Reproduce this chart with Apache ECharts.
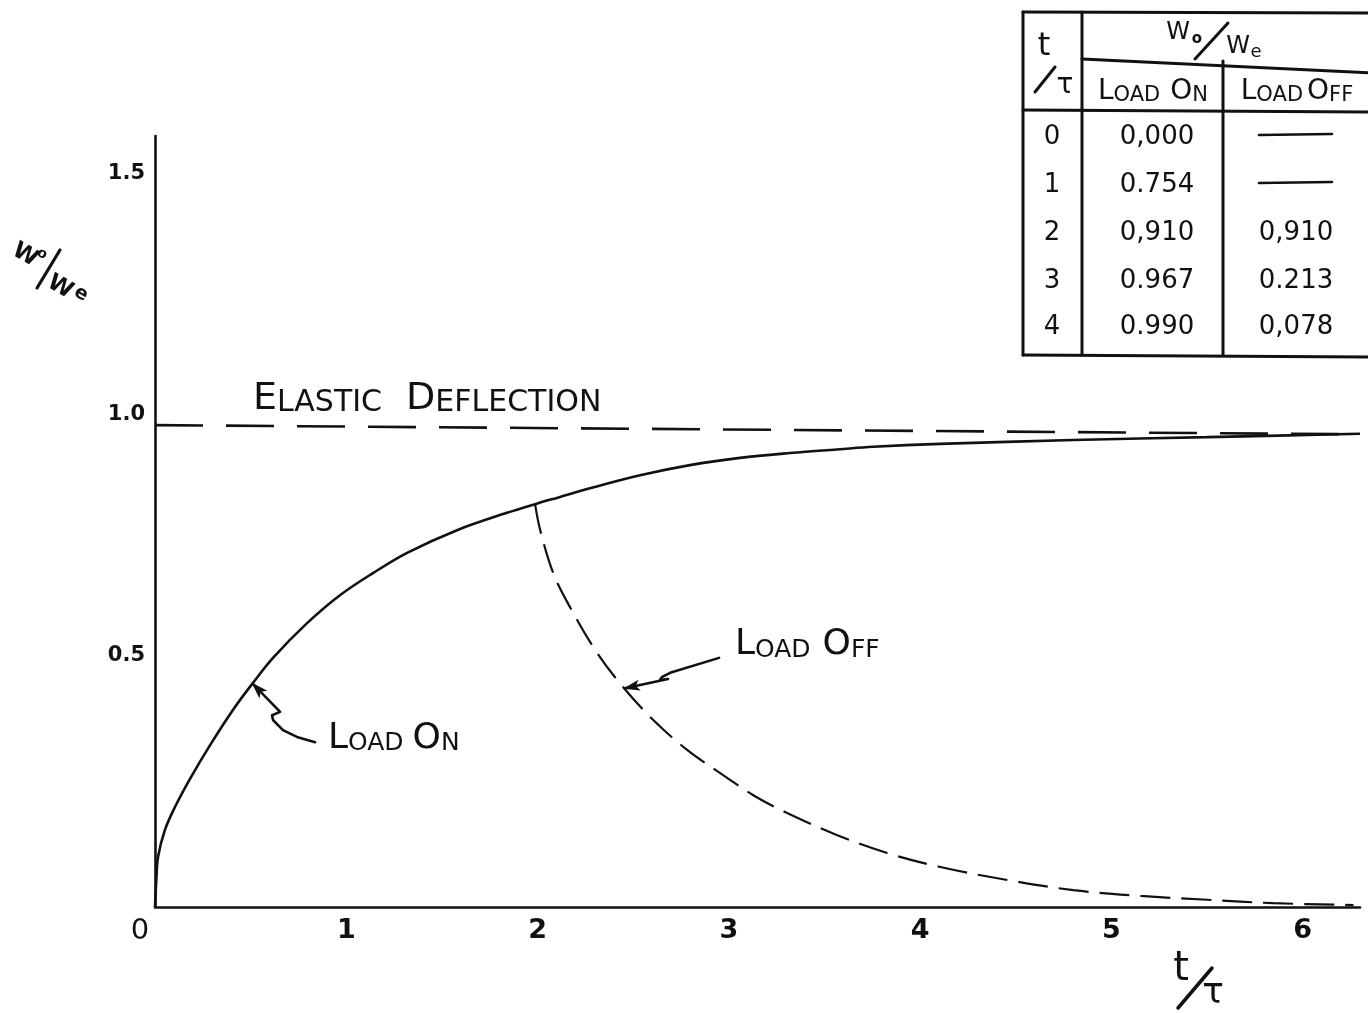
<!DOCTYPE html>
<html>
<head>
<meta charset="utf-8">
<script src="https://cdn.jsdelivr.net/npm/echarts/dist/echarts.min.js"></script>
<style>
html,body{margin:0;padding:0;background:#fff;}
#chart{width:1368px;height:1013px;}
</style>
</head>
<body>
<div id="chart"></div>
<script>
// ---------------- data ----------------
const xTicks = [0, 1, 2, 3, 4, 5, 6];
const xTickLabels = ['0', '1', '2', '3', '4', '5', '6'];
const yTicks = [0.5, 1.0, 1.5];
const yTickLabels = ['0.5', '1.0', '1.5'];

// t/tau , w0/we  -- load on (solid curve)
const loadOn = [
  [0, 0], [0.007, 0.056], [0.016, 0.104], [0.052, 0.160], [0.105, 0.208],
  [0.183, 0.266], [0.288, 0.336], [0.411, 0.411], [0.512, 0.465], [0.617, 0.517],
  [0.795, 0.589], [0.967, 0.647], [1.140, 0.693], [1.318, 0.735], [1.579, 0.782],
  [1.840, 0.818], [1.987, 0.836], [2.118, 0.851], [2.274, 0.869], [2.536, 0.896],
  [2.797, 0.917], [3.059, 0.932], [3.320, 0.942], [3.581, 0.950], [3.754, 0.955],
  [4.104, 0.961], [4.800, 0.969], [5.500, 0.975], [6.300, 0.982]
];
// load off (dashed decay curve)
const loadOff = [
  [1.987, 0.836], [2.014, 0.782], [2.082, 0.693], [2.170, 0.622], [2.312, 0.527],
  [2.448, 0.456], [2.605, 0.388], [2.782, 0.326], [2.955, 0.278], [3.128, 0.232],
  [3.305, 0.195], [3.567, 0.149], [3.828, 0.112], [4.106, 0.083], [4.456, 0.056],
  [4.801, 0.035], [5.152, 0.023], [5.502, 0.015], [5.847, 0.008], [6.266, 0.004]
];
// elastic deflection reference line
const elastic = [[0, 1.0], [6.3, 0.981]];

// table
const tableT = ['0', '1', '2', '3', '4'];
const tableLoadOn = ['0,000', '0.754', '0,910', '0.967', '0.990'];
const tableLoadOff = [null, null, '0,910', '0.213', '0,078'];

// ---------------- styling ----------------
const FONT = '"DejaVu Sans", "Noto Sans", sans-serif';
const INK = '#111';

const chart = echarts.init(document.getElementById('chart'), null, {renderer: 'canvas'});

function near(a, b) { return Math.abs(a - b) < 1e-6; }

const option = {
  backgroundColor: '#fff',
  animation: false,
  grid: {left: 155, right: 8, top: 136, bottom: 106, containLabel: false},
  xAxis: {
    type: 'value', min: 0, max: 6.3, interval: 1,
    axisLine: {show: true, onZero: false, lineStyle: {color: INK, width: 2.6}},
    axisTick: {show: false},
    splitLine: {show: false},
    axisLabel: {
      margin: 10, fontSize: 27, fontFamily: FONT, fontWeight: 'bold', color: INK,
      formatter: function (v) {
        const i = xTicks.findIndex(t => near(t, v));
        if (i < 0) return '';
        return i === 0 ? '{z|' + xTickLabels[i] + '}' : xTickLabels[i];
      },
      rich: {z: {fontSize: 29, fontFamily: FONT, fontWeight: 'normal', color: INK, padding: [0, 30, 0, 0]}}
    }
  },
  yAxis: {
    type: 'value', min: 0, max: 1.6, interval: 0.5,
    axisLine: {show: true, onZero: false, lineStyle: {color: INK, width: 2.6}},
    axisTick: {show: false},
    splitLine: {show: false},
    axisLabel: {
      margin: 10, fontSize: 21, fontFamily: FONT, fontWeight: 'bold', color: INK,
      verticalAlign: 'bottom', lineHeight: 21,
      formatter: function (v) {
        const i = yTicks.findIndex(t => near(t, v));
        return i < 0 ? '' : yTickLabels[i];
      }
    }
  },
  series: [
    {
      name: 'Elastic Deflection', type: 'line', data: elastic, showSymbol: false, silent: true,
      lineStyle: {color: INK, width: 2.6, type: [48, 23]}, z: 2
    },
    {
      name: 'Load On', type: 'line', data: loadOn, showSymbol: false, silent: true,
      smooth: 0.35,
      lineStyle: {color: INK, width: 2.6}, z: 3
    },
    {
      name: 'Load Off', type: 'line', data: loadOff, showSymbol: false, silent: true,
      smooth: 0.35,
      lineStyle: {color: INK, width: 2.2, type: [30, 11]}, z: 3
    }
  ]
};
chart.setOption(option);

// ---------------- annotations (anchored in data coordinates) ----------------
const annot = {
  elastic: {text: 'Elastic Deflection', at: [0.512, 1.054], big: 38, small: 30, sp: 24},
  loadOn: {text: 'Load On', at: [0.904, 0.350], big: 36, small: 25, sp: 9},
  loadOff: {text: 'Load Off', at: [3.032, 0.544], big: 36, small: 25, sp: 12},
  loadOnArrow: [[0.837, 0.342], [0.742, 0.353], [0.669, 0.367], [0.617, 0.388], [0.612, 0.398], [0.654, 0.405], [0.512, 0.463]],
  loadOffArrow: [[2.949, 0.517], [2.693, 0.486], [2.650, 0.477], [2.640, 0.471], [2.682, 0.473], [2.457, 0.454]]
};

function px(p) { return chart.convertToPixel({gridIndex: 0}, p); }

function smallCaps(s) {
  return s.split(' ').map(w => '{b|' + w[0].toUpperCase() + '}{s|' + w.slice(1).toUpperCase() + '}').join('{sp| }');
}
function scRich(big, small, sp, weight) {
  const fw = weight || 'normal';
  return {
    b: {fontSize: big, fontFamily: FONT, fontWeight: fw, fill: INK, verticalAlign: 'bottom'},
    s: {fontSize: small, fontFamily: FONT, fontWeight: fw, fill: INK, verticalAlign: 'bottom'},
    sp: {fontSize: small, fontFamily: FONT, fill: INK, width: sp, verticalAlign: 'bottom'}
  };
}

const els = [];

function addLabel(a) {
  const p = px(a.at);
  els.push({
    type: 'text', x: p[0], y: p[1], silent: true,
    style: {text: smallCaps(a.text), align: 'left', verticalAlign: 'middle', rich: scRich(a.big, a.small, a.sp)}
  });
}
addLabel(annot.elastic);
addLabel(annot.loadOn);
addLabel(annot.loadOff);

function addArrow(pts) {
  const P = pts.map(px);
  els.push({type: 'polyline', silent: true, shape: {points: P}, style: {stroke: INK, lineWidth: 2.6, fill: null, lineJoin: 'round', lineCap: 'round'}});
  const tip = P[P.length - 1], prev = P[P.length - 2];
  let dx = tip[0] - prev[0], dy = tip[1] - prev[1];
  const L = Math.hypot(dx, dy); dx /= L; dy /= L;
  const len = 15, w = 5.5;
  const bx = tip[0] - dx * len, by = tip[1] - dy * len;
  els.push({type: 'polygon', silent: true, shape: {points: [[tip[0] + dx * 2, tip[1] + dy * 2], [bx - dy * w, by + dx * w], [bx + dx * 4, by + dy * 4], [bx + dy * w, by - dx * w]]}, style: {fill: INK}});
}
addArrow(annot.loadOnArrow);
addArrow(annot.loadOffArrow);

function txt(x, y, text, size, extra, weight) {
  els.push(Object.assign({
    type: 'text', x: x, y: y, silent: true,
    style: {text: text, fontSize: size, fontFamily: FONT, fontWeight: weight || 'normal', fill: INK, align: 'center', verticalAlign: 'middle'}
  }, extra || {}));
}
function line(x1, y1, x2, y2, w) {
  els.push({type: 'line', silent: true, shape: {x1: x1, y1: y1, x2: x2, y2: y2}, style: {stroke: INK, lineWidth: w || 3, lineCap: 'round'}});
}

// axis titles: w0/we (slanted) and t/tau
const rot = -0.52;
txt(25, 255, 'W', 23, {rotation: rot}, 'bold');
txt(42, 254, 'o', 14, {rotation: rot}, 'bold');
line(37, 288, 60, 250, 3.2);
txt(60, 287, 'W', 23, {rotation: rot}, 'bold');
txt(81, 294, 'e', 19, {rotation: rot}, 'bold');

txt(1181, 970, 't', 40);
line(1178, 1008, 1212, 968, 3.5);
txt(1213, 994, 'τ', 36);

// ---------------- table ----------------
const T = {left: 1023, top: 12, right: 1372, bottom: 355, c1: 1082, c2: 1223, subTop: 61, hdrBottom: 110};
const colX = [1052, 1157, 1296];
const rowY = [137, 185, 233, 281, 327];

line(T.left, T.top, T.right, T.top + 1, 3);
line(T.left, T.top, T.left, T.bottom, 3);
line(T.left, T.bottom, T.right, T.bottom + 2, 3);
line(T.c1, T.top, T.c1, T.bottom, 3);
line(T.c2, T.subTop, T.c2, T.bottom, 3);
line(T.c1, T.subTop - 2, T.right, T.subTop + 12, 3);
line(T.left, T.hdrBottom, T.right, T.hdrBottom + 2, 3);

// header "t/tau"
txt(1044, 47, 't', 32);
line(1035, 92, 1055, 67, 3);
txt(1065, 86, 'τ', 28);
// header "w0/we"
txt(1178, 33, 'W', 24);
txt(1197, 39, 'o', 15, null, 'bold');
line(1195, 59, 1228, 23, 3);
txt(1238, 47, 'W', 24);
txt(1256, 52, 'e', 18);
// sub headers
els.push({type: 'text', x: 1153, y: 92, silent: true,
  style: {text: smallCaps('Load On'), align: 'center', verticalAlign: 'middle', rich: scRich(28, 21, 10)}});
els.push({type: 'text', x: 1297, y: 92, silent: true,
  style: {text: smallCaps('Load Off'), align: 'center', verticalAlign: 'middle', rich: scRich(28, 21, 4)}});

for (let i = 0; i < tableT.length; i++) {
  txt(colX[0], rowY[i], tableT[i], 26);
  txt(colX[1], rowY[i], tableLoadOn[i], 26);
  if (tableLoadOff[i] === null) {
    line(colX[2] - 37, rowY[i] - 2, colX[2] + 36, rowY[i] - 3, 2.6);
  } else {
    txt(colX[2], rowY[i], tableLoadOff[i], 26);
  }
}

chart.setOption({graphic: {elements: els}});
</script>
</body>
</html>
